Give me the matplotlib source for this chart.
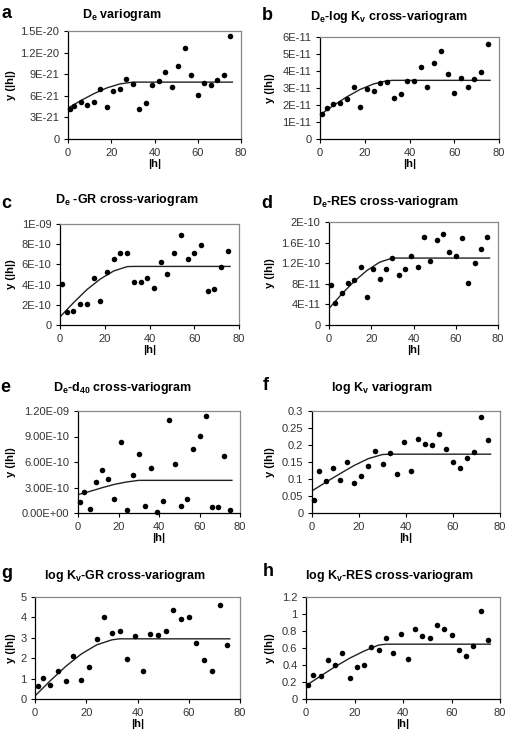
import matplotlib
matplotlib.use("Agg")
import matplotlib.pyplot as plt

plt.rcParams['font.family'] = ['Liberation Sans', 'DejaVu Sans']
plt.rcParams['mathtext.fontset'] = 'custom'
plt.rcParams['mathtext.rm'] = 'Liberation Sans:bold'
plt.rcParams['mathtext.it'] = 'Liberation Sans:bold'
plt.rcParams['mathtext.bf'] = 'Liberation Sans:bold'

# lag distances |h| of the experimental points
lags = [1, 3, 6, 9, 12, 15, 18, 21, 24, 27, 30, 33, 36, 39, 42, 45, 48, 51,
        54, 57, 60, 63, 66, 69, 72, 75]
# lags where the fitted model line was read
model_h = [0, 6, 12, 18, 24, 30, 33, 76]

# experimental (semi)variogram values, in units given by *_scale
de_vario = [4.2, 4.6, 5.1, 4.75, 5.1, 6.9, 4.4, 6.6, 6.9, 8.3, 7.7, 4.1, 5.0,
            7.5, 8.1, 9.3, 7.2, 10.2, 12.6, 8.9, 6.1, 7.8, 7.5, 8.2, 8.9, 14.3]
de_model = [4.3, 5.35, 6.3, 7.1, 7.65, 7.9, 7.9, 7.9]
de_scale = 1e-21

de_kv = [1.48, 1.81, 2.05, 2.1, 2.34, 3.08, 1.87, 2.96, 2.83, 3.27, 3.35, 2.4,
         2.63, 3.41, 3.41, 4.25, 3.08, 4.5, 5.17, 3.8, 2.69, 3.6, 3.08, 3.55,
         3.92, 5.6]
de_kv_model = [1.42, 1.97, 2.48, 2.92, 3.24, 3.43, 3.45, 3.45]
de_kv_scale = 1e-11

de_gr = [4.06, 1.25, 1.42, 2.11, 2.11, 4.69, 2.34, 5.25, 6.53, 7.1, 7.1, 4.26,
         4.26, 4.62, 3.63, 6.2, 5.02, 7.16, 8.91, 6.5, 7.16, 7.92, 3.37, 3.6,
         5.78, 7.33]
de_gr_model = [0.8, 2.2, 3.5, 4.55, 5.35, 5.78, 5.8, 5.8]
de_gr_scale = 1e-10

de_res = [7.74, 4.26, 6.13, 8.06, 8.71, 11.3, 5.48, 10.9, 8.97, 10.9, 13.0,
          9.8, 10.9, 13.35, 11.3, 17.0, 12.4, 16.6, 17.7, 14.1, 13.4, 16.8,
          8.13, 12.1, 14.7, 17.0]
de_res_model = [3.2, 6.0, 8.5, 10.6, 12.2, 13.0, 13.0, 13.0]
de_res_scale = 1e-11

de_d40 = [1.25, 2.43, 0.51, 3.69, 5.02, 3.96, 1.65, 8.35, 0.35, 4.51, 6.94,
          0.86, 5.25, 0.08, 1.41, 10.9, 5.76, 0.86, 1.65, 7.53, 9.1, 11.4,
          0.67, 0.75, 6.67, 0.35]
de_d40_model = [2.16, 2.55, 2.98, 3.37, 3.65, 3.84, 3.84, 3.84]
de_d40_scale = 1e-10

kv_vario = [0.038, 0.125, 0.093, 0.131, 0.098, 0.151, 0.089, 0.108, 0.137,
            0.182, 0.143, 0.176, 0.115, 0.208, 0.125, 0.218, 0.202, 0.2,
            0.231, 0.188, 0.151, 0.133, 0.163, 0.18, 0.282, 0.215]
kv_model = [0.065, 0.091, 0.116, 0.14, 0.16, 0.172, 0.173, 0.173]

kv_gr = [0.66, 1.02, 0.7, 1.39, 0.9, 2.1, 0.95, 1.56, 2.92, 4.0, 3.23, 3.34,
         1.95, 3.08, 1.39, 3.18, 3.13, 3.34, 4.38, 3.92, 4.0, 2.74, 1.89, 1.39,
         4.59, 2.64]
kv_gr_model = [0.15, 0.9, 1.6, 2.2, 2.65, 2.9, 2.95, 2.95]

kv_res = [0.169, 0.287, 0.276, 0.457, 0.40, 0.543, 0.248, 0.382, 0.40, 0.61,
          0.571, 0.717, 0.547, 0.768, 0.469, 0.823, 0.744, 0.717, 0.87, 0.819,
          0.752, 0.571, 0.508, 0.626, 1.04, 0.70]
kv_res_model = [0.157, 0.27, 0.38, 0.48, 0.565, 0.635, 0.645, 0.645]

# y tick values and their labels
ticks_a = [0, 3e-21, 6e-21, 9e-21, 1.2e-20, 1.5e-20]
labels_a = ['0', '3E-21', '6E-21', '9E-21', '1.2E-20', '1.5E-20']
ticks_b = [0, 1e-11, 2e-11, 3e-11, 4e-11, 5e-11, 6e-11]
labels_b = ['0', '1E-11', '2E-11', '3E-11', '4E-11', '5E-11', '6E-11']
ticks_c = [0, 2e-10, 4e-10, 6e-10, 8e-10, 1e-9]
labels_c = ['0', '2E-10', '4E-10', '6E-10', '8E-10', '1E-09']
ticks_d = [0, 4e-11, 8e-11, 1.2e-10, 1.6e-10, 2e-10]
labels_d = ['0', '4E-11', '8E-11', '1.2E-10', '1.6E-10', '2E-10']
ticks_e = [0, 3e-10, 6e-10, 9e-10, 1.2e-9]
labels_e = ['0.00E+00', '3.00E-10', '6.00E-10', '9.00E-10', '1.20E-09']
ticks_f = [0, 0.05, 0.1, 0.15, 0.2, 0.25, 0.3]
labels_f = ['0', '0.05', '0.1', '0.15', '0.2', '0.25', '0.3']
ticks_g = [0, 1, 2, 3, 4, 5]
labels_g = ['0', '1', '2', '3', '4', '5']
ticks_h = [0, 0.2, 0.4, 0.6, 0.8, 1.0, 1.2]
labels_h = ['0', '0.2', '0.4', '0.6', '0.8', '1', '1.2']

titles = [r"D$_\mathrm{e}$ variogram",
          r"D$_\mathrm{e}$-log K$_\mathrm{v}$ cross-variogram",
          r"D$_\mathrm{e}$ -GR cross-variogram",
          r"D$_\mathrm{e}$-RES cross-variogram",
          r"D$_\mathrm{e}$-d$_\mathrm{40}$ cross-variogram",
          r"log K$_\mathrm{v}$ variogram",
          r"log K$_\mathrm{v}$-GR cross-variogram",
          r"log K$_\mathrm{v}$-RES cross-variogram"]
letters = list("abcdefgh")

panels = [
    (de_vario, de_model, de_scale, ticks_a, labels_a),
    (de_kv, de_kv_model, de_kv_scale, ticks_b, labels_b),
    (de_gr, de_gr_model, de_gr_scale, ticks_c, labels_c),
    (de_res, de_res_model, de_res_scale, ticks_d, labels_d),
    (de_d40, de_d40_model, de_d40_scale, ticks_e, labels_e),
    (kv_vario, kv_model, 1, ticks_f, labels_f),
    (kv_gr, kv_gr_model, 1, ticks_g, labels_g),
    (kv_res, kv_res_model, 1, ticks_h, labels_h),
]

# layout in pixels: axes (left, right, top, bottom), title centre, letter, ylabel right edge
W, H = 514, 738
boxes = [(68, 241, 31, 139), (320, 499, 37, 139),
         (60, 239, 224, 325), (329, 498, 222, 325),
         (78, 240, 411, 513), (312, 500, 411, 513),
         (35, 240, 597, 699), (306, 500, 597, 699)]
title_pos = [(122, 15), (389, 17), (127, 200), (385, 202),
             (123, 388), (382, 388), (125, 576), (390, 576)]
letter_pos = [(6, 13), (267, 15), (6, 203), (267, 204),
              (5, 387), (266, 385), (7, 573), (268, 572)]
ylab_x = [16, 275, 16, 275, 16, 275, 16, 275]

fig = plt.figure(figsize=(W / 100, H / 100), dpi=100)

for i, (vals, model, scale, yt, yl) in enumerate(panels):
    l, r, t, b = boxes[i]
    ax = fig.add_axes([l / W, 1 - b / H, (r - l) / W, (b - t) / H])
    ax.plot(model_h, [m * scale for m in model], color='#222222', lw=1.0)
    ax.scatter(lags, [v * scale for v in vals], s=16, color='black',
               zorder=3, clip_on=False, linewidths=0)
    ax.set_xlim(0, 80)
    ax.set_ylim(0, yt[-1])
    ax.set_xticks([0, 20, 40, 60, 80])
    ax.set_yticks(yt)
    ax.set_yticklabels(yl)
    ax.tick_params(direction='out', length=3.2, width=0.8, labelsize=8,
                   colors='black', labelcolor='#333333', pad=3)
    for side in ('top', 'right'):
        ax.spines[side].set_color('#888888')
        ax.spines[side].set_linewidth(0.9)
    for side in ('left', 'bottom'):
        ax.spines[side].set_color('black')
        ax.spines[side].set_linewidth(0.9)
    ax.set_xlabel('|h|', fontsize=8, fontweight='bold', labelpad=1)
    ax.set_ylabel('y (|h|)', fontsize=8, fontweight='bold')
    ax.yaxis.set_label_coords(ylab_x[i] / W, 1 - ((t + b) / 2) / H,
                              transform=fig.transFigure)
    tx, ty = title_pos[i]
    fig.text(tx / W, 1 - ty / H, titles[i], ha='center', va='center',
             fontsize=9, fontweight='bold')
    lx, ly = letter_pos[i]
    fig.text(lx / W, 1 - ly / H, letters[i], ha='center', va='center',
             fontsize=13, fontweight='bold')

fig.savefig('out.png', dpi=100)
